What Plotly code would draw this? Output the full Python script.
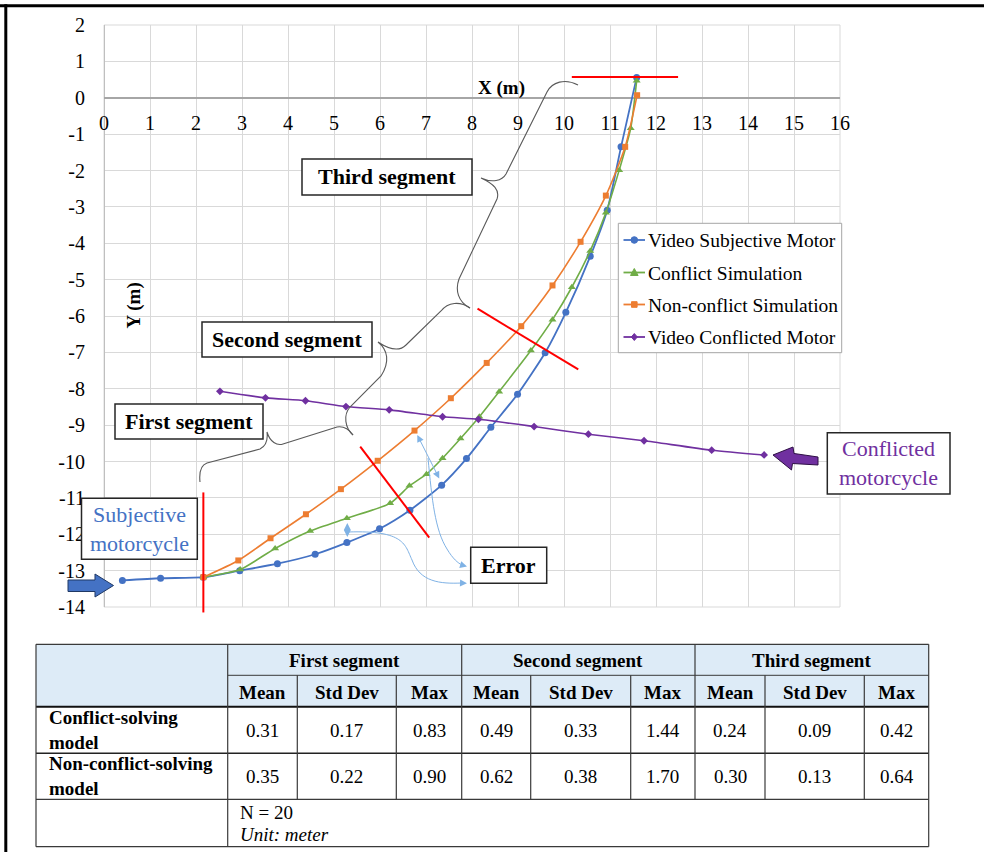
import re
import plotly.graph_objects as go

# ---------------- data ----------------
subj_x = [0.40, 1.23, 2.16, 2.95, 3.77, 4.59, 5.28, 5.99, 6.65, 7.34, 7.88, 8.41, 8.99, 9.59, 10.04, 10.57, 10.94, 11.24, 11.58]
subj_y = [-13.27, -13.21, -13.18, -13.00, -12.81, -12.55, -12.23, -11.85, -11.34, -10.65, -9.92, -9.06, -8.15, -7.01, -5.90, -4.36, -3.09, -1.35, 0.56]

conf_x = [2.16, 2.96, 3.72, 4.48, 5.28, 6.22, 6.64, 7.01, 7.36, 7.75, 8.16, 8.59, 9.28, 9.75, 10.17, 10.57, 10.91, 11.20, 11.45, 11.58]
conf_y = [-13.18, -12.97, -12.39, -11.91, -11.56, -11.15, -10.67, -10.35, -9.91, -9.37, -8.77, -8.08, -6.95, -6.10, -5.21, -4.21, -3.16, -1.99, -0.84, 0.47]

nonconf_x = [2.16, 2.92, 3.62, 4.39, 5.15, 5.95, 6.75, 7.54, 8.32, 9.07, 9.75, 10.36, 10.91, 11.33, 11.59]
nonconf_y = [-13.18, -12.72, -12.11, -11.45, -10.76, -9.98, -9.15, -8.26, -7.29, -6.28, -5.16, -3.96, -2.69, -1.35, 0.07]

other_x = [2.52, 3.51, 4.38, 5.26, 6.20, 7.36, 8.14, 9.35, 10.53, 11.74, 13.21, 14.35]
other_y = [-8.07, -8.25, -8.33, -8.49, -8.58, -8.77, -8.84, -9.04, -9.25, -9.43, -9.69, -9.82]

series_names = ["Video Subjective Motor", "Conflict Simulation", "Non-conflict Simulation", "Video Conflicted Motor"]
series_colors = ["#4472C4", "#70AD47", "#ED7D31", "#7030A0"]
series_symbols = ["circle", "triangle-up", "square", "diamond"]

x_ticks = list(range(0, 17))
x_tick_labels = [str(v) for v in x_ticks]
y_ticks = list(range(-14, 3))
y_tick_labels = [str(v) for v in y_ticks]

# segment boundary lines (data units)
seg_lines = [
    ((2.16, -10.85), (2.16, -14.15)),
    ((5.57, -9.59), (7.07, -12.09)),
    ((8.12, -5.80), (10.31, -7.47)),
    ((10.17, 0.57), (12.48, 0.57)),
]

segments = ["First segment", "Second segment", "Third segment"]
stats = ["Mean", "Std Dev", "Max"]
models = ["Conflict-solving<br>model", "Non-conflict-solving<br>model"]
conflict_vals = [0.31, 0.17, 0.83, 0.49, 0.33, 1.44, 0.24, 0.09, 0.42]
nonconflict_vals = [0.35, 0.22, 0.90, 0.62, 0.38, 1.70, 0.30, 0.13, 0.64]
n_text = "N = 20"
unit_text = "Unit: meter"

# ---------------- geometry helpers ----------------
W, H = 984, 852
L, T, PW, PH = 104, 25, 736, 582
FONT = "Liberation Serif"

def px(p):
    return (p - L) / PW

def py(p):
    return (T + PH - p) / PH

def dpx(x):
    return L + x / 16 * PW

def dpy(y):
    return T + (2 - y) / 16 * PH

def path(s):
    return re.sub(r'(-?\d+\.?\d*),(-?\d+\.?\d*)',
                  lambda m: f"{px(float(m.group(1))):.5f},{py(float(m.group(2))):.5f}", s)

shapes = []
annos = []

def line_px(x0, y0, x1, y1, color, width, layer="above"):
    shapes.append(dict(type="line", xref="paper", yref="paper",
                       x0=px(x0), y0=py(y0), x1=px(x1), y1=py(y1),
                       line=dict(color=color, width=width), layer=layer))

def text_px(x, y, text, size, color="black", bold=False, italic=False, xanchor="center", align="center", angle=0):
    t = text
    if bold:
        t = f"<b>{t}</b>"
    if italic:
        t = f"<i>{t}</i>"
    annos.append(dict(xref="paper", yref="paper", x=px(x), y=py(y), text=t, showarrow=False,
                      xanchor=xanchor, yanchor="middle", align=align, textangle=angle,
                      font=dict(family=FONT, size=size, color=color), borderpad=0))

def box(x0, y0, x1, y1, text, size, color="black", bold=False):
    shapes.append(dict(type="rect", xref="paper", yref="paper",
                       x0=px(x0), y0=py(y0), x1=px(x1), y1=py(y1),
                       line=dict(color="#262626", width=1.5), fillcolor="white", layer="above"))
    text_px((x0 + x1) / 2, (y0 + y1) / 2, text, size, color, bold)

# ---------------- traces ----------------
fig = go.Figure()
all_x = [subj_x, conf_x, nonconf_x, other_x]
all_y = [subj_y, conf_y, nonconf_y, other_y]
msizes = [7, 7, 6, 6]
lwidths = [1.8, 1.6, 1.6, 1.6]
for xs, ys, nm, col, sym, ms, lw in zip(all_x, all_y, series_names, series_colors, series_symbols, msizes, lwidths):
    fig.add_trace(go.Scatter(x=xs, y=ys, mode="lines+markers", name=nm, showlegend=False,
                             line=dict(color=col, width=lw, shape="spline", smoothing=0.6),
                             marker=dict(symbol=sym, size=ms, color=col)))

# plot border (edge grid lines)
shapes.append(dict(type="rect", xref="paper", yref="paper", x0=0, y0=0, x1=1, y1=1,
                   line=dict(color="#D9D9D9", width=1), layer="below"))

# ---------------- segment red lines ----------------
for (a, b) in seg_lines:
    line_px(dpx(a[0]), dpy(a[1]), dpx(b[0]), dpy(b[1]), "#FF0000", 2)

# ---------------- braces ----------------
brace_col = "#595959"
braces = [
    "M 578,85 C 565,78 552,82 547,92 L 506,174 C 502,181 492,183 481,178 "
    "C 494,184 500,190 497,199 L 459,279 C 455,290 458,302 470,308",
    "M 470,308 C 460,301 448,302 441,311 L 406,345 C 400,351 390,350 378,342 "
    "C 388,350 390,362 381,376 L 350,407 C 343,415 345,428 353,435",
    "M 353,435 C 348,428 343,426 337,427 L 283,444 C 277,446 270,442 267,432 "
    "C 268,440 266,446 260,449 L 207,463 C 201,465 199,472 200,482",
]
for b in braces:
    shapes.append(dict(type="path", xref="paper", yref="paper", path=path(b),
                       line=dict(color=brace_col, width=1.1), layer="above"))

# ---------------- error arrows ----------------
err_col = "#7FB2E5"
def arrow_px(x_head, y_head, x_tail, y_tail, both=False):
    annos.append(dict(xref="paper", yref="paper", axref="pixel", ayref="pixel",
                      x=px(x_head), y=py(y_head), ax=x_tail - x_head, ay=y_tail - y_head,
                      text="", showarrow=True, arrowhead=2, arrowsize=1.4, arrowwidth=1,
                      arrowcolor=err_col, arrowside="end+start" if both else "end"))

arrow_px(347.3, 523, 347.3, 538.5, both=True)
arrow_px(417.3, 435, 440, 480, both=True)
shapes.append(dict(type="path", xref="paper", yref="paper",
                   path=path("M 348,532 C 405,530 405,545 412,560 C 420,582 440,584 462,583"),
                   line=dict(color=err_col, width=1), layer="above"))
shapes.append(dict(type="path", xref="paper", yref="paper",
                   path=path("M 428,458 C 432,500 435,530 447,549 C 453,559 458,563 462,565"),
                   line=dict(color=err_col, width=1), layer="above"))
arrow_px(467, 583.3, 460, 583)
arrow_px(467, 566.5, 460, 564.5)

# ---------------- block arrows ----------------
shapes.append(dict(type="path", xref="paper", yref="paper",
                   path=path("M 68,580 L 95,580 L 95,574 L 113.5,585.5 L 95,597 L 95,591.5 L 68,591.5 Z"),
                   fillcolor="#4472C4", line=dict(color="#1F3864", width=1), layer="above"))
shapes.append(dict(type="path", xref="paper", yref="paper",
                   path=path("M 773,455 L 793,447 L 794,453.5 L 818,457 L 818,465 L 792.5,463.5 L 791.5,470 Z"),
                   fillcolor="#7030A0", line=dict(color="#2E0F45", width=1), layer="above"))

# ---------------- label boxes ----------------
box(302, 159, 472, 195, "Third segment", 22, bold=True)
box(202, 322, 372, 357, "Second segment", 22, bold=True)
box(115, 404, 263, 439, "First segment", 22, bold=True)
box(470.7, 547.3, 546.7, 583.3, "Error", 22, bold=True)
box(81.5, 498.3, 197.3, 559.3, "Subjective<br>motorcycle", 22, color="#4472C4")
box(827.3, 432.7, 950, 494, "Conflicted<br>motorcycle", 22, color="#7030A0")

# axis titles
text_px(501, 88, "X (m)", 19, bold=True)
text_px(133.5, 306, "Y (m)", 19, bold=True, angle=-90)

# ---------------- legend (drawn) ----------------
shapes.append(dict(type="rect", xref="paper", yref="paper",
                   x0=px(618.3), y0=py(223.3), x1=px(841.7), y1=py(352.7),
                   line=dict(color="#A6A6A6", width=1), fillcolor="white", layer="above"))
leg_rows = [240, 272.5, 304.5, 337]
for yy, nm, col, sym in zip(leg_rows, series_names, series_colors, series_symbols):
    line_px(623.5, yy, 645, yy, col, 1.8)
    cx = 634.3
    if sym == "circle":
        shapes.append(dict(type="circle", xref="paper", yref="paper",
                           x0=px(cx - 3.3), y0=py(yy - 3.3), x1=px(cx + 3.3), y1=py(yy + 3.3),
                           fillcolor=col, line=dict(color=col, width=1), layer="above"))
    elif sym == "triangle-up":
        shapes.append(dict(type="path", xref="paper", yref="paper",
                           path=path(f"M {cx - 3.8},{yy + 3} L {cx + 3.8},{yy + 3} L {cx},{yy - 4} Z"),
                           fillcolor=col, line=dict(color=col, width=1), layer="above"))
    elif sym == "square":
        shapes.append(dict(type="rect", xref="paper", yref="paper",
                           x0=px(cx - 2.8), y0=py(yy - 2.8), x1=px(cx + 2.8), y1=py(yy + 2.8),
                           fillcolor=col, line=dict(color=col, width=1), layer="above"))
    else:
        shapes.append(dict(type="path", xref="paper", yref="paper",
                           path=path(f"M {cx},{yy - 3.5} L {cx + 3},{yy} L {cx},{yy + 3.5} L {cx - 3},{yy} Z"),
                           fillcolor=col, line=dict(color=col, width=1), layer="above"))
    text_px(646.5, yy + 0.5, nm, 19.5, xanchor="left", align="left")

# ---------------- table ----------------
cols = [36, 227.7, 297.3, 396.3, 461.7, 530.7, 630.7, 695, 765, 864.3, 928.7]
r_top, r_h1, r_h2, r_1, r_2, r_bot = 644.3, 675.3, 706.7, 753.3, 799.3, 846.7
tl = "#3A3A3A"
shapes.append(dict(type="rect", xref="paper", yref="paper",
                   x0=px(cols[0]), y0=py(r_top), x1=px(cols[-1]), y1=py(r_h2),
                   fillcolor="#DDEBF7", line=dict(width=0), layer="above"))
line_px(cols[0], r_top, cols[-1], r_top, tl, 1.2)
line_px(cols[1], r_h1, cols[-1], r_h1, tl, 1)
line_px(cols[0], r_h2, cols[-1], r_h2, "#111111", 2)
line_px(cols[0], r_1, cols[-1], r_1, "#222222", 1.6)
line_px(cols[0], r_2, cols[-1], r_2, tl, 1.2)
line_px(cols[0], r_bot, cols[-1], r_bot, tl, 1.2)
for i, c in enumerate(cols):
    if i in (0, 1, 10):
        line_px(c, r_top, c, r_bot, tl, 1.2)
    elif i in (4, 7):
        line_px(c, r_top, c, r_2, tl, 1.2)
    else:
        line_px(c, r_h1, c, r_2, tl, 1.2)

for s, seg in enumerate(segments):
    cx = (cols[1 + 3 * s] + cols[4 + 3 * s]) / 2
    text_px(cx, (r_top + r_h1) / 2 + 1, seg, 19, bold=True)
    for k, st in enumerate(stats):
        j = 1 + 3 * s + k
        text_px((cols[j] + cols[j + 1]) / 2, (r_h1 + r_h2) / 2 + 1, st, 19, bold=True)

for r, (vals, (y0, y1)) in enumerate(zip([conflict_vals, nonconflict_vals], [(r_h2, r_1), (r_1, r_2)])):
    text_px(47.5, (y0 + y1) / 2, models[r], 19, bold=True, xanchor="left", align="left")
    for j, v in enumerate(vals):
        text_px((cols[j + 1] + cols[j + 2]) / 2, (y0 + y1) / 2, f"{v:.2f}", 19)

text_px(238.5, 812, n_text, 19, xanchor="left", align="left")
text_px(238.5, 834, unit_text, 19, italic=True, xanchor="left", align="left")

# ---------------- page frame ----------------
line_px(0, 5.8, W, 5.8, "black", 3)
line_px(5.8, 4.3, 5.8, H, "black", 3)

# ---------------- layout ----------------
fig.update_layout(
    width=W, height=H,
    margin=dict(l=L, r=W - L - PW, t=T, b=H - T - PH, pad=0),
    paper_bgcolor="white", plot_bgcolor="white",
    font=dict(family=FONT, size=19, color="black"),
    showlegend=False,
    xaxis=dict(range=[0, 16], tickmode="array", tickvals=x_ticks, ticktext=x_tick_labels,
               showgrid=True, gridcolor="#D9D9D9", gridwidth=1,
               zeroline=True, zerolinecolor="#BFBFBF", zerolinewidth=1, showline=False,
               anchor="free", position=(0 + 14) / 16,
               ticks="outside", ticklen=7, tickcolor="rgba(0,0,0,0)",
               tickfont=dict(family=FONT, size=20, color="black")),
    yaxis=dict(range=[-14, 2], tickmode="array", tickvals=y_ticks, ticktext=y_tick_labels,
               showgrid=True, gridcolor="#D9D9D9", gridwidth=1,
               zeroline=True, zerolinecolor="#A6A6A6", zerolinewidth=1.5, showline=False,
               ticks="outside", ticklen=14, tickcolor="rgba(0,0,0,0)",
               tickfont=dict(family=FONT, size=20, color="black")),
    shapes=shapes, annotations=annos,
)

fig.write_html("out.html", config={"displayModeBar": False},
               post_script="document.body.style.margin='0px';document.body.style.padding='0px';")
